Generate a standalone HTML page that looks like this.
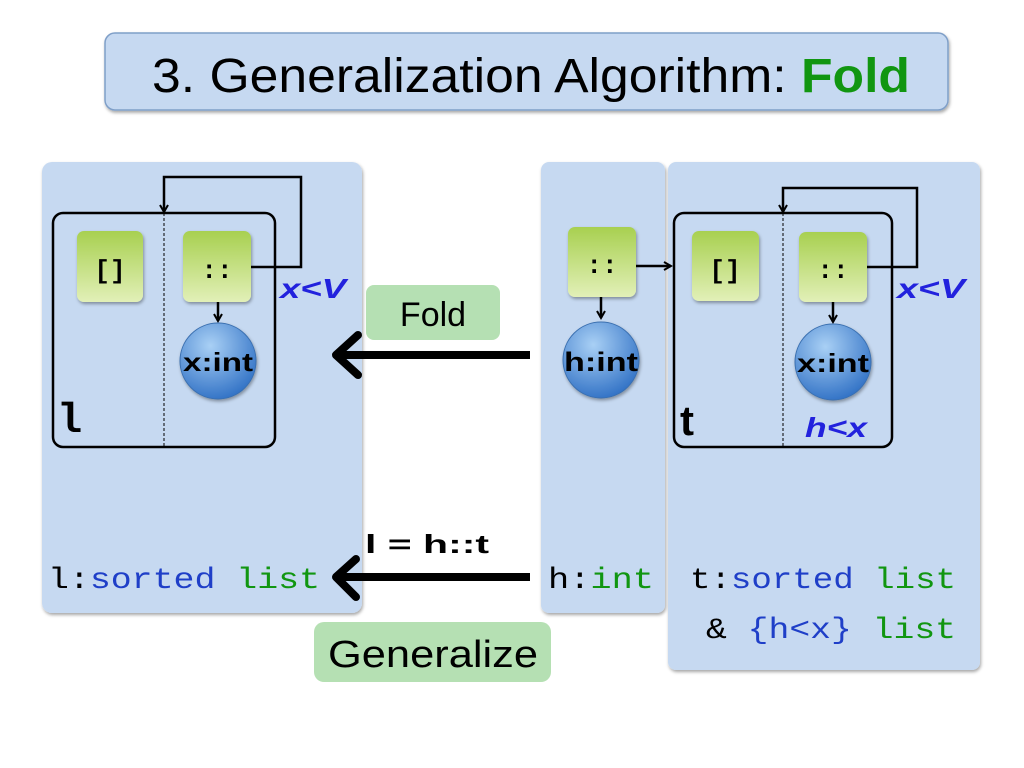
<!DOCTYPE html>
<html><head><meta charset="utf-8"><style>body{margin:0;background:#fff}svg{display:block}</style></head>
<body>
<svg width="1024" height="768" viewBox="0 0 1024 768" xmlns="http://www.w3.org/2000/svg">
<defs>
<linearGradient id="g" x1="0" y1="0" x2="0" y2="1"><stop offset="0" stop-color="#a8d050"/><stop offset="1" stop-color="#e2f0b8"/></linearGradient>
<radialGradient id="b" cx="0.4" cy="0.3" r="0.75"><stop offset="0" stop-color="#a9d0f5"/><stop offset="1" stop-color="#2e6fc4"/></radialGradient>
<marker id="a" markerWidth="10" markerHeight="10" refX="8" refY="5" orient="auto" markerUnits="userSpaceOnUse"><path d="M1,1 L8,5 L1,9" fill="none" stroke="#000" stroke-width="2"/></marker>
<filter id="s"><feDropShadow dx="1" dy="2" stdDeviation="1.5" flood-opacity="0.35"/></filter>
</defs>
<!-- title -->
<rect x="105" y="33" width="843" height="77" rx="10" fill="#c6d9f1" stroke="#7f9fc8" stroke-width="1.5" filter="url(#s)"/>
<text x="152" y="92" font-family="Liberation Sans, sans-serif" font-size="48" textLength="758" lengthAdjust="spacingAndGlyphs">3. Generalization Algorithm: <tspan fill="#119611" font-weight="bold">Fold</tspan></text>
<!-- panels -->
<rect x="42" y="162" width="320" height="451" rx="10" fill="#c6d9f1" filter="url(#s)"/>
<rect x="541" y="162" width="124" height="451" rx="8" fill="#c6d9f1" filter="url(#s)"/>
<rect x="668" y="162" width="312" height="508" rx="8" fill="#c6d9f1" filter="url(#s)"/>
<g font-family="Liberation Sans, sans-serif">
<!-- left box -->
<rect x="53" y="213" width="222" height="234" rx="10" fill="none" stroke="#000" stroke-width="2.5"/>
<line x1="164" y1="213" x2="164" y2="447" stroke="#000" stroke-width="1" stroke-dasharray="3,2"/>
<polyline points="250,267 301,267 301,177 164,177 164,212" fill="none" stroke="#000" stroke-width="2.5" marker-end="url(#a)"/>
<rect x="77" y="231" width="66" height="71" rx="7" fill="url(#g)" filter="url(#s)"/>
<text x="110" y="278" text-anchor="middle" font-family="Liberation Mono, monospace" font-size="26" font-weight="bold">[]</text>
<rect x="183" y="231" width="68" height="71" rx="7" fill="url(#g)" filter="url(#s)"/>
<text x="217" y="278" text-anchor="middle" font-family="Liberation Mono, monospace" font-size="26" font-weight="bold">::</text>
<line x1="218" y1="302" x2="218" y2="321" stroke="#000" stroke-width="2.5" marker-end="url(#a)"/>
<circle cx="218" cy="361" r="38" fill="url(#b)" stroke="#3a6fb0" filter="url(#s)"/>
<text x="218" y="371" text-anchor="middle" font-size="26" font-weight="bold" textLength="70" lengthAdjust="spacingAndGlyphs">x:int</text>
<text x="57" y="432" font-family="Liberation Mono, monospace" font-size="42" font-weight="bold">l</text>
<text x="280" y="298" font-size="28" font-weight="bold" font-style="italic" fill="#2222dd" textLength="66" lengthAdjust="spacingAndGlyphs">x&lt;V</text>
<!-- fold -->
<rect x="366" y="285" width="134" height="55" rx="8" fill="#b5e0b3"/>
<text x="433" y="326" text-anchor="middle" font-size="34">Fold</text>
<line x1="530" y1="355" x2="338" y2="355" stroke="#000" stroke-width="8"/>
<polyline points="358,335 336,355 358,375" fill="none" stroke="#000" stroke-width="8" stroke-linecap="round" stroke-linejoin="round"/>
<!-- middle -->
<rect x="568" y="227" width="68" height="70" rx="7" fill="url(#g)" filter="url(#s)"/>
<text x="602" y="273" text-anchor="middle" font-family="Liberation Mono, monospace" font-size="26" font-weight="bold">::</text>
<line x1="636" y1="266" x2="671" y2="266" stroke="#000" stroke-width="2.5" marker-end="url(#a)"/>
<line x1="601" y1="297" x2="601" y2="318" stroke="#000" stroke-width="2.5" marker-end="url(#a)"/>
<circle cx="601" cy="360" r="38" fill="url(#b)" stroke="#3a6fb0" filter="url(#s)"/>
<text x="601" y="371" text-anchor="middle" font-size="27" font-weight="bold" textLength="74" lengthAdjust="spacingAndGlyphs">h:int</text>
<!-- right box -->
<rect x="674" y="213" width="218" height="234" rx="10" fill="none" stroke="#000" stroke-width="2.5"/>
<line x1="783" y1="213" x2="783" y2="447" stroke="#000" stroke-width="1" stroke-dasharray="3,2"/>
<polyline points="867,267 917,267 917,188 783,188 783,212" fill="none" stroke="#000" stroke-width="2.5" marker-end="url(#a)"/>
<rect x="692" y="231" width="67" height="70" rx="7" fill="url(#g)" filter="url(#s)"/>
<text x="725" y="278" text-anchor="middle" font-family="Liberation Mono, monospace" font-size="26" font-weight="bold">[]</text>
<rect x="799" y="232" width="68" height="70" rx="7" fill="url(#g)" filter="url(#s)"/>
<text x="833" y="278" text-anchor="middle" font-family="Liberation Mono, monospace" font-size="26" font-weight="bold">::</text>
<line x1="833" y1="302" x2="833" y2="322" stroke="#000" stroke-width="2.5" marker-end="url(#a)"/>
<circle cx="833" cy="362" r="38" fill="url(#b)" stroke="#3a6fb0" filter="url(#s)"/>
<text x="833" y="372" text-anchor="middle" font-size="26" font-weight="bold" textLength="72" lengthAdjust="spacingAndGlyphs">x:int</text>
<text x="680" y="435" font-size="42" font-weight="bold">t</text>
<text x="805" y="437" font-size="28" font-weight="bold" font-style="italic" fill="#2222dd" textLength="62" lengthAdjust="spacingAndGlyphs">h&lt;x</text>
<text x="897" y="298" font-size="28" font-weight="bold" font-style="italic" fill="#2222dd" textLength="68" lengthAdjust="spacingAndGlyphs">x&lt;V</text>
<!-- lower arrow -->
<line x1="530" y1="577" x2="338" y2="577" stroke="#000" stroke-width="8"/>
<polyline points="356,559 336,577 356,597" fill="none" stroke="#000" stroke-width="8" stroke-linecap="round" stroke-linejoin="round"/>
<text x="365" y="553" font-size="26" font-weight="bold" textLength="124" lengthAdjust="spacingAndGlyphs">l = h::t</text>
<rect x="314" y="622" width="237" height="60" rx="10" fill="#b5e0b3"/>
<text x="433" y="667" text-anchor="middle" font-size="38" textLength="210" lengthAdjust="spacingAndGlyphs">Generalize</text>
</g>
<g font-family="Liberation Mono, monospace" font-size="30">
<text x="48" y="588" textLength="272" lengthAdjust="spacingAndGlyphs">l:<tspan fill="#1f3fc8">sorted</tspan> <tspan fill="#119611">list</tspan></text>
<text x="548" y="588" textLength="106" lengthAdjust="spacingAndGlyphs">h:<tspan fill="#119611">int</tspan></text>
<text x="690" y="588" textLength="266" lengthAdjust="spacingAndGlyphs">t:<tspan fill="#1f3fc8">sorted</tspan> <tspan fill="#119611">list</tspan></text>
<text x="706" y="638" textLength="250" lengthAdjust="spacingAndGlyphs">&amp; <tspan fill="#1f3fc8">{h&lt;x}</tspan> <tspan fill="#119611">list</tspan></text>
</g>
</svg>
</body></html>
